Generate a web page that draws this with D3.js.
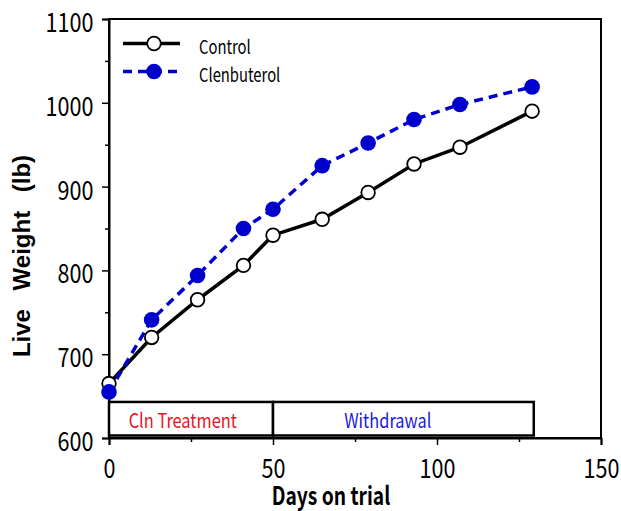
<!DOCTYPE html>
<html><head><meta charset="utf-8">
<script src="https://cdn.jsdelivr.net/npm/d3@7"></script>
<style>body{margin:0;background:#fff}</style>
</head><body>
<svg id="c" width="621" height="511"></svg>
<script>
const days = [0, 13, 27, 41, 50, 65, 79, 93, 107, 129];
const control = [665, 720, 765, 806, 842, 861, 893, 927, 947, 990];
const clenbuterol = [655, 741, 794, 850, 873, 925, 952, 980, 998, 1019];
const xTicks = [0, 50, 100, 150];
const xMinor = [25, 75, 125];
const yTicks = [600, 700, 800, 900, 1000, 1100];
const yMinor = [650, 750, 850, 950, 1050];
const periods = [
  {label: "Cln Treatment", start: 0, end: 50, labelAt: 22.5, color: "#e8141c"},
  {label: "Withdrawal", start: 50, end: 129.5, labelAt: 85, color: "#1a1adc"}
];
const legend = [
  {name: "Control"}, {name: "Clenbuterol"}
];

const svg = d3.select("#c");
const L = 109, R = 601, T = 19, B = 438;
const x = d3.scaleLinear().domain([0, 150]).range([L, R]);
const y = d3.scaleLinear().domain([600, 1100]).range([B, T]);
const font = "'Noto Sans CJK JP', sans-serif";
const SX = 0.8;

// frame
svg.append("rect").attr("x", L).attr("y", T).attr("width", R - L).attr("height", B - T)
  .attr("fill", "none").attr("stroke", "#000").attr("stroke-width", 2);

// axes
const xAxis = d3.axisBottom(x).tickValues(xTicks).tickSize(7).tickFormat(d3.format("d"));
const gx = svg.append("g").attr("transform", `translate(0,${B})`).call(xAxis);
gx.select(".domain").attr("stroke-width", 2);
gx.selectAll(".tick line").attr("stroke-width", 1.5);
gx.selectAll("text").attr("font-family", font).attr("font-size", 27).attr("fill", "#000")
  .attr("dy", 0).attr("y", 40.5).attr("transform", `scale(${SX},1)`);
const gxm = svg.append("g").attr("transform", `translate(0,${B})`)
  .call(d3.axisBottom(x).tickValues(xMinor).tickSize(4).tickFormat(""));
gxm.select(".domain").remove();
gxm.selectAll(".tick line").attr("stroke-width", 1.5);

const yAxis = d3.axisLeft(y).tickValues(yTicks).tickSize(7).tickFormat(d3.format("d"));
const gy = svg.append("g").attr("transform", `translate(${L},0)`).call(yAxis);
gy.select(".domain").attr("stroke-width", 2);
gy.selectAll(".tick line").attr("stroke-width", 1.5);
gy.selectAll("text").attr("font-family", font).attr("font-size", 27).attr("fill", "#000")
  .attr("dy", 0).attr("y", 12.5).attr("x", -15.5 / SX).attr("transform", `scale(${SX},1)`);
const gym = svg.append("g").attr("transform", `translate(${L},0)`)
  .call(d3.axisLeft(y).tickValues(yMinor).tickSize(4).tickFormat(""));
gym.select(".domain").remove();
gym.selectAll(".tick line").attr("stroke-width", 1.5);

// period boxes
const pg = svg.append("g");
pg.selectAll("rect").data(periods).join("rect")
  .attr("x", d => x(d.start)).attr("width", d => x(d.end) - x(d.start))
  .attr("y", y(643)).attr("height", y(603) - y(643))
  .attr("fill", "#fff").attr("stroke", "#000").attr("stroke-width", 2.5);
pg.selectAll("text").data(periods).join("text")
  .attr("transform", d => `translate(${x(d.labelAt)},428) scale(0.82,1)`)
  .attr("text-anchor", "middle").attr("font-family", font).attr("font-size", 20)
  .attr("fill", d => d.color).text(d => d.label);

// lines
const ctrlData = days.map((d, i) => [d, control[i]]);
const clenData = days.map((d, i) => [d, clenbuterol[i]]);
const line = d3.line().x(d => x(d[0])).y(d => y(d[1]));
svg.append("path").datum(ctrlData).attr("d", line).attr("fill", "none")
  .attr("stroke", "#000").attr("stroke-width", 3.5);
svg.append("path").datum(clenData).attr("d", line).attr("fill", "none")
  .attr("stroke", "#0000cc").attr("stroke-width", 3.5).attr("stroke-dasharray", "9,6");
svg.append("g").selectAll("circle").data(ctrlData).join("circle")
  .attr("cx", d => x(d[0])).attr("cy", d => y(d[1])).attr("r", 6.8)
  .attr("fill", "#fff").attr("stroke", "#000").attr("stroke-width", 1.8);
svg.append("g").selectAll("circle").data(clenData).join("circle")
  .attr("cx", d => x(d[0])).attr("cy", d => y(d[1])).attr("r", 7.8)
  .attr("fill", "#0000cc");

// legend
const lg = svg.append("g");
const ly = [43.5, 71.5];
lg.append("line").attr("x1", 123).attr("x2", 180).attr("y1", ly[0]).attr("y2", ly[0])
  .attr("stroke", "#000").attr("stroke-width", 3.5);
lg.append("circle").attr("cx", 154).attr("cy", ly[0]).attr("r", 6.8)
  .attr("fill", "#fff").attr("stroke", "#000").attr("stroke-width", 1.8);
lg.append("line").attr("x1", 123).attr("x2", 180).attr("y1", ly[1]).attr("y2", ly[1])
  .attr("stroke", "#0000cc").attr("stroke-width", 3.5).attr("stroke-dasharray", "9,6");
lg.append("circle").attr("cx", 154).attr("cy", ly[1]).attr("r", 7.8).attr("fill", "#0000cc");
lg.selectAll("text").data(legend).join("text")
  .attr("transform", (d, i) => `translate(199,${ly[i] + 10}) scale(0.78,1)`)
  .attr("font-family", font).attr("font-size", 19).attr("fill", "#000").text(d => d.name);

// titles
svg.append("text").attr("transform", "translate(331,505) scale(0.77,1)").attr("text-anchor", "middle")
  .attr("font-family", font).attr("font-weight", "bold").attr("font-size", 25)
  .text("Days on trial");
svg.append("text").attr("transform", "translate(30,256) rotate(-90)")
  .attr("text-anchor", "middle").attr("font-family", "'Liberation Sans', Arial, sans-serif")
  .attr("font-weight", "bold").attr("font-size", 24).attr("word-spacing", 12)
  .text("Live Weight (lb)");
</script>
</body></html>
